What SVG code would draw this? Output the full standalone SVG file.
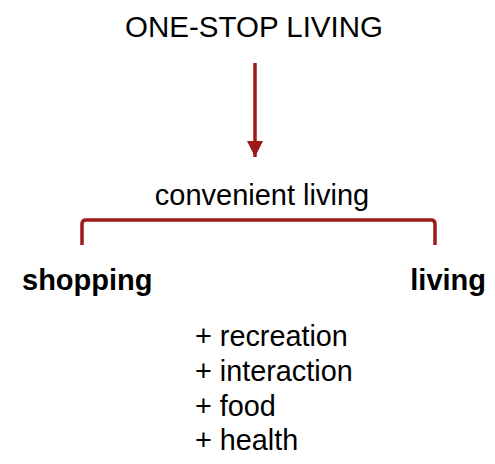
<svg xmlns="http://www.w3.org/2000/svg" width="495" height="464" viewBox="0 0 495 464">
<style>
text{font-family:"Liberation Sans",Arial,sans-serif;fill:#000}
.t{font-size:29.5px}
.v{font-size:29px}
.b{font-size:29px;font-weight:bold}
.l{font-size:28.8px}
.c{stroke:#9b1a1a;stroke-width:3.5;fill:none}
</style>
<defs>
<marker id="ah" viewBox="0 0 10 10" refX="10" refY="5" markerWidth="4.9" markerHeight="4.6" markerUnits="strokeWidth" orient="auto"><path d="M0,0 L10,5 L0,10 Z" fill="#9b1a1a"/></marker>
</defs>
<rect width="495" height="464" fill="#fff"/>
<g id="connectors">
<path class="c" d="M255,63 L255,157" marker-end="url(#ah)"/>
<path class="c" d="M82,245 L82,224 Q82,220 86,220 L431,220 Q435,220 435,224 L435,245"/>
</g>
<g id="title"><text class="t" x="254" y="37" text-anchor="middle">ONE-STOP LIVING</text></g>
<g id="convenient"><text class="v" x="262" y="205" text-anchor="middle">convenient living</text></g>
<g id="shopping"><text class="b" x="22" y="290">shopping</text></g>
<g id="living"><text class="b" x="486" y="290" text-anchor="end">living</text></g>
<g id="list">
<text class="l" x="195" y="346">+ recreation</text>
<text class="l" x="195" y="381">+ interaction</text>
<text class="l" x="195" y="416">+ food</text>
<text class="l" x="195" y="450">+ health</text>
</g>
</svg>
